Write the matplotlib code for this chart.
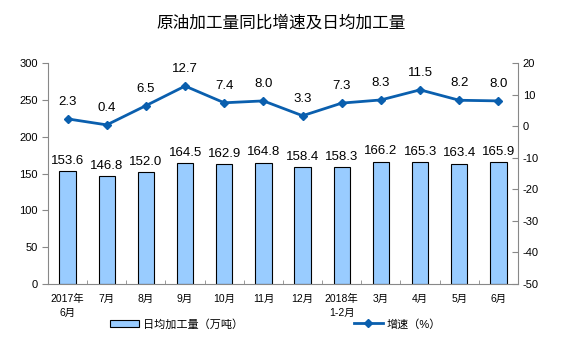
import matplotlib
matplotlib.use("Agg")
import matplotlib.pyplot as plt
import numpy as np

plt.rcParams['font.family'] = ['Liberation Sans', 'Noto Sans CJK SC', 'DejaVu Sans']
plt.rcParams['axes.unicode_minus'] = False

months = ["2017年\n6月", "7月", "8月", "9月", "10月", "11月", "12月",
          "2018年\n1-2月", "3月", "4月", "5月", "6月"]
daily = [153.6, 146.8, 152.0, 164.5, 162.9, 164.8, 158.4, 158.3, 166.2, 165.3, 163.4, 165.9]
growth = [2.3, 0.4, 6.5, 12.7, 7.4, 8.0, 3.3, 7.3, 8.3, 11.5, 8.2, 8.0]

fig = plt.figure(figsize=(5.62, 3.58), dpi=100)
ax = fig.add_axes([0.0854, 0.2067, 0.8363, 0.6173])
x = np.arange(len(months))

# bars - daily throughput
bars = ax.bar(x, daily, width=0.42, color="#99CCFF", edgecolor="black", linewidth=0.8,
              label="日均加工量（万吨）", zorder=2)
for xi, v in zip(x, daily):
    ax.annotate(f"{v:.1f}", (xi, v), xytext=(0, 3), textcoords="offset points",
                ha="center", va="bottom", fontsize=9.5)
ax.set_ylim(0, 300)
ax.set_yticks(range(0, 301, 50))
ax.set_xlim(-0.5, len(months) - 0.5)
ax.set_xticks(x)
ax.set_xticklabels(months, fontsize=7.5, va="top", linespacing=1.5)
ax.tick_params(axis="x", length=0, pad=7)
ax.set_xticks(np.arange(-0.5, len(months), 1), minor=True)
ax.tick_params(axis="x", which="minor", direction="in", length=3, color="#888888")
ax.tick_params(axis="y", labelsize=8, length=4, color="#888888")
for s in ["top", "right"]:
    ax.spines[s].set_visible(False)
ax.spines["left"].set_color("#888888")
ax.spines["bottom"].set_color("#888888")

# line - growth rate
ax2 = ax.twinx()
line, = ax2.plot(x, growth, color="#0a5fae", marker="D", markersize=4.5, linewidth=2,
                 label="增速（%）", zorder=3)
for xi, v in zip(x, growth):
    ax2.annotate(f"{v:.1f}", (xi, v), xytext=(0, 8), textcoords="offset points",
                 ha="center", va="bottom", fontsize=9.5)
ax2.set_ylim(-50, 20)
ax2.set_yticks(range(-50, 21, 10))
ax2.tick_params(axis="y", labelsize=8, direction="in", length=4, color="#888888")
for s in ["top", "left", "bottom"]:
    ax2.spines[s].set_visible(False)
ax2.spines["right"].set_color("#888888")

fig.text(0.5, 0.935, "原油加工量同比增速及日均加工量", ha="center", va="center", fontsize=12)

fig.legend([bars, line], ["日均加工量（万吨）", "增速（%）"], loc="center",
           bbox_to_anchor=(0.49, 0.095), ncol=2, frameon=False, fontsize=8,
           handlelength=2.6, handletextpad=0.3, columnspacing=10)

fig.savefig("out.png", dpi=100)
